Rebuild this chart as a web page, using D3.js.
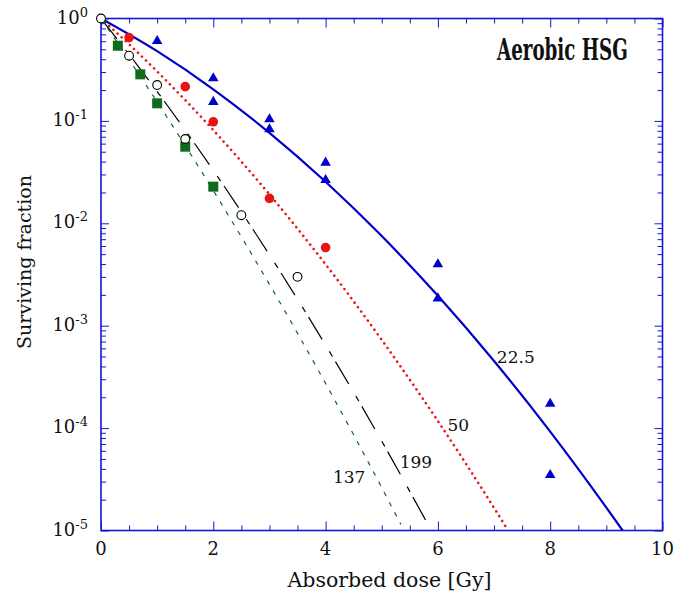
<!DOCTYPE html>
<html>
<head>
<meta charset="utf-8">
<script src="https://cdn.jsdelivr.net/npm/d3@7"></script>
<style>
  body { margin: 0; background: #fff; }
  svg { display: block; }
  text { font-family: "DejaVu Serif", serif; fill: #111; }
</style>
</head>
<body>
<svg id="chart" width="677" height="596"></svg>
<script>
(() => {

  // axis ticks
  const doseTicks = [0, 2, 4, 6, 8, 10];
  const sfExponents = [0, -1, -2, -3, -4, -5];

  // measured points
  const triDose = [1, 2, 2, 3, 3, 4, 4, 6, 6, 8, 8];
  const triSF = [0.617, 0.267, 0.157, 0.106, 0.0847, 0.040, 0.0271, 0.00407, 0.00189, 1.77e-4, 3.56e-5];
  const redDose = [0, 0.5, 1.5, 2, 3, 4];
  const redSF = [1, 0.65, 0.216, 0.098, 0.0175, 0.0058];
  const sqDose = [0, 0.3, 0.7, 1, 1.5, 2];
  const sqSF = [1, 0.542, 0.285, 0.1485, 0.056, 0.0228];
  const openDose = [0, 0.5, 1, 1.5, 2.5, 3.5];
  const openSF = [1, 0.433, 0.224, 0.0666, 0.012, 0.003];

  // fitted curves
  const fitDose225 = [0, 1, 2, 3, 4, 5, 6, 7, 8, 9, 9.29];
  const fitSF225 = [1, 0.4795, 0.2035, 0.0765, 0.02545, 0.0075, 0.001958, 4.52e-4, 9.25e-5, 1.675e-5, 1e-5];
  const fitDose50 = [0, 0.5, 1, 2, 3, 4, 5, 6, 7, 7.25];
  const fitSF50 = [1, 0.56, 0.3038, 0.0813, 0.01916, 0.003977, 7.27e-4, 1.172e-4, 1.662e-5, 1e-5];
  const fitDose199 = [0, 1, 2, 3, 4, 5, 5.79];
  const fitSF199 = [1, 0.1936, 0.03293, 0.004921, 6.46e-4, 7.46e-5, 1.236e-5];
  const fitDose137 = [0, 1, 2, 3, 4, 5, 5.34];
  const fitSF137 = [1, 0.1532, 0.02088, 0.00253, 2.73e-4, 2.62e-5, 1.148e-5];

  const curveLabels = [
    { text: '22.5', dose: 7.05, sf: 4.3e-4 },
    { text: '50', dose: 6.17, sf: 9.4e-5 },
    { text: '199', dose: 5.32, sf: 4.1e-5 },
    { text: '137', dose: 4.13, sf: 2.9e-5 }
  ];

  const axisColor = '#1515d8';
  const blue = '#0000cc';
  const red = '#e81212';
  const green = '#0f6a1e';

  const svg = d3.select('#chart');

  const x = d3.scaleLinear().domain([0, 10]).range([101, 662.5]);
  const y = d3.scaleLog().domain([1e-5, 1]).range([530.5, 18.5]);

  const [x0, x1] = x.range();
  const [y0, y1] = y.range();

  // minor ticks
  const minorDose = d3.range(0, 10.01, 0.5).filter(d => d % 2 !== 0);
  const minorSF = [];
  sfExponents.slice(1).forEach(e => {
    for (let k = 2; k <= 9; k++) minorSF.push(k * Math.pow(10, e));
  });
  const majorSF = sfExponents.map(e => Math.pow(10, e));

  function styleAxis(g) {
    g.select('.domain').remove();
    g.selectAll('.tick line').attr('stroke', axisColor).attr('stroke-width', 1);
    g.selectAll('.tick text').remove();
  }

  const addAxis = (axis, tx, ty) => svg.append('g')
    .attr('transform', `translate(${tx},${ty})`)
    .call(axis)
    .call(styleAxis);

  // bottom & top
  addAxis(d3.axisBottom(x).tickValues(minorDose).tickSize(-5), 0, y0);
  addAxis(d3.axisBottom(x).tickValues(doseTicks).tickSize(-9), 0, y0);
  addAxis(d3.axisTop(x).tickValues(minorDose).tickSize(-5), 0, y1);
  addAxis(d3.axisTop(x).tickValues(doseTicks).tickSize(-9), 0, y1);
  // left & right
  addAxis(d3.axisLeft(y).tickValues(minorSF).tickSize(-5), x0, 0);
  addAxis(d3.axisLeft(y).tickValues(majorSF).tickSize(-8), x0, 0);
  addAxis(d3.axisRight(y).tickValues(minorSF).tickSize(-5), x1, 0);
  addAxis(d3.axisRight(y).tickValues(majorSF).tickSize(-8), x1, 0);

  // frame
  svg.append('rect')
    .attr('x', x0).attr('y', y1)
    .attr('width', x1 - x0).attr('height', y0 - y1)
    .attr('fill', 'none')
    .attr('stroke', axisColor)
    .attr('stroke-width', 1.6);

  // tick labels
  svg.append('g').selectAll('text')
    .data(doseTicks)
    .enter()
    .append('text')
    .attr('x', d => x(d))
    .attr('y', 555)
    .attr('text-anchor', 'middle')
    .attr('font-size', 18)
    .text(d => d);

  const yLab = svg.append('g').selectAll('text')
    .data(sfExponents)
    .enter()
    .append('text')
    .attr('x', 88)
    .attr('y', d => y(Math.pow(10, d)) + 5)
    .attr('text-anchor', 'end')
    .attr('font-size', 18);
  yLab.append('tspan').text('10');
  yLab.append('tspan').attr('dy', -7).attr('font-size', 13).text(d => d);

  // axis titles
  svg.append('text')
    .attr('x', 389.5)
    .attr('y', 586.5)
    .attr('text-anchor', 'middle')
    .attr('font-size', 20.5)
    .text('Absorbed dose [Gy]');

  svg.append('text')
    .attr('transform', 'translate(31,262) rotate(-90)')
    .attr('text-anchor', 'middle')
    .attr('font-size', 19)
    .text('Surviving fraction');

  svg.append('text')
    .attr('transform', 'translate(497,60) scale(0.63,1)')
    .attr('font-family', '"Liberation Serif", serif')
    .attr('font-weight', 'bold')
    .attr('font-size', 29)
    .text('Aerobic HSG');

  // curves
  svg.append('clipPath').attr('id', 'plot-clip')
    .append('rect')
    .attr('x', x0).attr('y', y1)
    .attr('width', x1 - x0).attr('height', y0 - y1);

  const plot = svg.append('g').attr('clip-path', 'url(#plot-clip)');

  const line = d3.line()
    .x(d => x(d[0]))
    .y(d => y(d[1]))
    .curve(d3.curveMonotoneX);

  const curves = [
    { dose: fitDose137, sf: fitSF137, color: green, width: 1.2, dash: '4.5,7', cap: 'butt' },
    { dose: fitDose199, sf: fitSF199, color: '#000', width: 1.2, dash: '26,14,6,6', cap: 'butt' },
    { dose: fitDose50, sf: fitSF50, color: red, width: 2.6, dash: '0.01,5.6', cap: 'round' },
    { dose: fitDose225, sf: fitSF225, color: blue, width: 2.2, dash: null, cap: 'butt' }
  ];

  curves.forEach(c => {
    plot.append('path')
      .datum(d3.zip(c.dose, c.sf))
      .attr('d', line)
      .attr('fill', 'none')
      .attr('stroke', c.color)
      .attr('stroke-width', c.width)
      .attr('stroke-dasharray', c.dash)
      .attr('stroke-linecap', c.cap);
  });

  // markers
  const triangle = d3.symbol().type(d3.symbolTriangle).size(48);

  plot.append('g').selectAll('path')
    .data(d3.zip(triDose, triSF))
    .enter()
    .append('path')
    .attr('d', triangle)
    .attr('transform', d => `translate(${x(d[0])},${y(d[1]) + 1})`)
    .attr('fill', blue);

  plot.append('g').selectAll('circle')
    .data(d3.zip(redDose, redSF))
    .enter()
    .append('circle')
    .attr('cx', d => x(d[0]))
    .attr('cy', d => y(d[1]))
    .attr('r', 4.8)
    .attr('fill', red);

  plot.append('g').selectAll('rect')
    .data(d3.zip(sqDose, sqSF))
    .enter()
    .append('rect')
    .attr('x', d => x(d[0]) - 5)
    .attr('y', d => y(d[1]) - 5)
    .attr('width', 10)
    .attr('height', 10)
    .attr('fill', green);

  svg.append('g').selectAll('circle')
    .data(d3.zip(openDose, openSF))
    .enter()
    .append('circle')
    .attr('cx', d => x(d[0]))
    .attr('cy', d => y(d[1]))
    .attr('r', 4.4)
    .attr('fill', '#fff')
    .attr('stroke', '#000')
    .attr('stroke-width', 1.1);

  // curve labels
  svg.append('g').selectAll('text')
    .data(curveLabels)
    .enter()
    .append('text')
    .attr('x', d => x(d.dose))
    .attr('y', d => y(d.sf))
    .attr('font-size', 17)
    .text(d => d.text);

})();
</script>
</body>
</html>
